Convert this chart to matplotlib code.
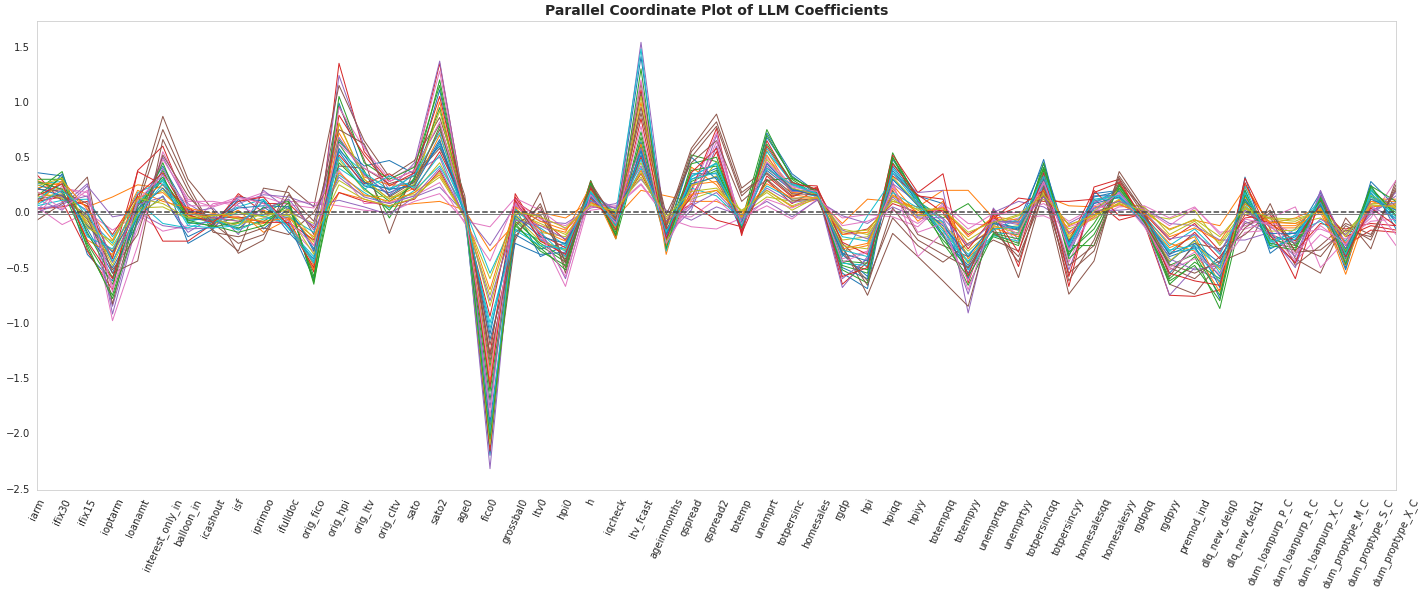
import numpy as np
import pandas as pd
import matplotlib
matplotlib.use("Agg")
import matplotlib.pyplot as plt
import seaborn as sns

# 係数の名前（横軸）
columns = ["iarm", "ifix30", "ifix15", "ioptarm", "loanamt", "interest_only_in",
           "balloon_in", "icashout", "isf", "iprimoo", "ifulldoc", "orig_fico",
           "orig_hpi", "orig_ltv", "orig_cltv", "sato", "sato2", "age0", "fico0",
           "grossbal0", "ltv0", "hpi0", "h", "iqcheck", "ltv_fcast", "ageinmonths",
           "qspread", "qspread2", "totemp", "unemprt", "totpersinc", "homesales",
           "rgdp", "hpi", "hpiqq", "hpiyy", "totempqq", "totempyy", "unemprtqq",
           "unemprtyy", "totpersincqq", "totpersincyy", "homesalesqq", "homesalesyy",
           "rgdpqq", "rgdpyy", "premod_ind", "dlq_new_delq0", "dlq_new_delq1",
           "dum_loanpurp_P_C", "dum_loanpurp_R_C", "dum_loanpurp_X_C",
           "dum_proptype_M_C", "dum_proptype_S_C", "dum_proptype_X_C"]

# 各係数の値（1列 = 40モデル分）
iarm = [0.36, 0.29, 0.20, 0.34, 0.10, -0.07, 0.05, -0.01, 0.16, 0.26,
        0.08, 0.22, 0.30, 0.03, 0.12, 0.18, 0.02, -0.01, 0.14, 0.06,
        0.25, 0.27, 0.15, 0.10, 0.04, 0.21, -0.02, -0.01, 0.18, 0.12,
        0.22, 0.08, 0.28, 0.15, 0.00, 0.12, 0.19, -0.01, 0.24, 0.07]
ifix30 = [0.33, 0.20, 0.37, 0.10, 0.15, 0.08, -0.11, -0.01, 0.22, 0.28,
          0.35, 0.27, 0.30, 0.05, 0.02, 0.12, 0.24, -0.01, 0.17, 0.11,
          0.18, 0.25, 0.32, 0.14, 0.06, 0.19, 0.22, -0.01, 0.13, 0.26,
          0.15, 0.29, 0.21, 0.26, 0.09, 0.16, 0.03, -0.01, 0.31, 0.20]
ifix15 = [-0.38, 0.05, -0.33, -0.35, 0.02, 0.32, 0.00, -0.01, -0.10, -0.05,
          -0.20, -0.12, -0.28, 0.10, 0.24, -0.02, 0.14, -0.01, -0.08, 0.12,
          -0.15, -0.25, -0.18, 0.06, 0.26, 0.08, 0.18, -0.01, -0.04, -0.22,
          -0.12, 0.03, -0.30, -0.26, 0.15, -0.06, 0.20, -0.01, -0.14, 0.00]
ioptarm = [-0.62, 0.14, -0.75, -0.70, -0.85, -0.83, -0.16, -0.01, -0.40, -0.28,
           -0.50, -0.35, -0.65, -0.20, -0.04, -0.45, -0.98, -0.01, -0.30, -0.22,
           -0.55, -0.38, -0.59, -0.42, -0.92, -0.55, -0.68, -0.01, -0.48, -0.33,
           -0.36, -0.25, -0.78, -0.60, -0.45, -0.52, -0.72, -0.01, -0.26, -0.44]
loanamt = [0.05, 0.25, 0.00, 0.38, -0.05, 0.10, -0.02, -0.01, 0.08, 0.18,
           -0.10, 0.12, 0.02, 0.15, 0.00, 0.06, -0.30, -0.01, 0.04, 0.10,
           -0.04, 0.14, 0.06, 0.37, -0.08, -0.44, -0.15, -0.01, 0.00, 0.09,
           0.03, 0.20, -0.06, 0.16, 0.07, -0.20, 0.11, -0.01, 0.13, -0.03]
interest_only_in = [0.42, 0.22, 0.30, 0.60, 0.50, 0.87, -0.17, -0.01, 0.20, 0.28,
                    0.35, 0.25, 0.38, -0.26, -0.12, 0.75, 0.55, -0.01, 0.05, -0.10,
                    0.15, 0.18, 0.32, 0.25, 0.40, 0.66, 0.48, -0.01, 0.12, 0.30,
                    0.22, 0.10, 0.45, 0.36, 0.14, 0.52, 0.34, -0.01, 0.08, 0.26]
balloon_in = [0.02, 0.00, -0.02, 0.05, 0.08, 0.30, -0.12, -0.01, -0.04, -0.08,
              -0.28, 0.01, -0.05, -0.26, -0.15, 0.25, 0.10, -0.01, -0.06, -0.14,
              -0.22, -0.03, -0.07, 0.03, 0.00, 0.20, 0.12, -0.01, -0.01, -0.10,
              -0.06, 0.04, -0.09, -0.02, -0.18, 0.15, 0.06, -0.01, -0.05, -0.12]
icashout = [-0.08, -0.05, -0.10, -0.12, -0.06, 0.02, 0.08, -0.01, -0.09, -0.04,
            -0.15, -0.03, -0.07, -0.10, -0.14, -0.16, 0.10, -0.01, -0.02, -0.06,
            -0.11, -0.08, -0.13, -0.05, 0.04, -0.18, 0.05, -0.01, -0.06, -0.09,
            -0.07, -0.01, -0.12, -0.09, -0.04, -0.10, 0.06, -0.01, -0.03, -0.14]
isf = [-0.15, -0.08, -0.05, 0.17, -0.12, -0.37, 0.10, -0.01, -0.10, 0.05,
       0.12, -0.02, -0.14, 0.15, 0.08, -0.35, 0.06, -0.01, -0.06, -0.16,
       0.14, 0.02, -0.09, -0.04, -0.20, -0.22, 0.12, -0.01, -0.12, 0.00,
       0.04, -0.05, -0.18, 0.10, -0.08, -0.28, 0.14, -0.01, 0.00, -0.12]
iprimoo = [0.05, -0.10, -0.02, 0.00, 0.10, -0.25, 0.18, -0.01, -0.05, 0.12,
           -0.15, 0.02, -0.08, 0.08, 0.16, 0.22, -0.04, -0.01, -0.12, -0.06,
           0.10, -0.18, 0.04, -0.09, 0.20, -0.14, 0.14, -0.01, 0.00, -0.03,
           0.06, -0.08, -0.12, 0.14, 0.03, -0.20, 0.08, -0.01, -0.04, 0.11]
ifulldoc = [-0.10, 0.02, 0.12, -0.05, -0.08, 0.24, 0.10, -0.01, -0.02, -0.15,
            0.04, -0.07, 0.06, 0.08, 0.14, 0.18, -0.12, -0.01, 0.00, -0.04,
            -0.18, -0.06, 0.10, -0.09, 0.02, -0.20, 0.07, -0.01, -0.03, -0.11,
            0.05, -0.05, 0.09, -0.12, 0.12, 0.16, -0.08, -0.01, 0.03, -0.14]
orig_fico = [-0.60, -0.30, -0.65, -0.54, -0.46, 0.05, 0.09, -0.01, -0.27, -0.40,
             -0.33, -0.48, -0.58, -0.14, 0.06, -0.20, -0.36, -0.01, -0.10, -0.18,
             -0.42, -0.52, -0.62, -0.25, -0.12, 0.00, 0.04, -0.01, -0.38, -0.44,
             -0.35, -0.22, -0.63, -0.50, -0.16, -0.08, -0.30, -0.01, -0.24, -0.46]
orig_hpi = [0.99, 0.18, 0.62, 1.35, 1.24, 1.15, 0.06, -0.01, 0.48, 0.40,
            0.64, 0.80, 0.66, 0.18, 0.11, 0.96, 0.95, -0.01, 0.29, 0.34,
            0.55, 0.72, 0.45, 0.52, 0.68, 0.42, 0.38, -0.01, 0.81, 0.56,
            0.58, 0.36, 1.05, 0.88, 0.32, 0.75, 0.62, -0.01, 0.25, 0.50]
orig_ltv = [0.35, 0.12, 0.28, 0.55, 0.60, 0.65, 0.02, -0.01, 0.20, 0.25,
            0.42, 0.30, 0.38, 0.10, 0.05, 0.48, 0.58, -0.01, 0.15, 0.18,
            0.24, 0.32, 0.22, 0.26, 0.34, 0.40, 0.08, -0.01, 0.30, 0.36,
            0.27, 0.16, 0.45, 0.52, 0.14, 0.62, 0.40, -0.01, 0.12, 0.21]
orig_cltv = [0.15, 0.05, 0.10, 0.28, 0.20, 0.32, 0.00, -0.01, 0.08, 0.22,
             0.47, 0.12, -0.05, 0.06, -0.02, -0.19, 0.30, -0.01, 0.14, 0.04,
             0.18, 0.25, 0.02, 0.35, 0.16, 0.26, 0.09, -0.01, 0.12, 0.20,
             0.21, 0.10, 0.30, 0.24, 0.08, 0.14, 0.28, -0.01, 0.06, 0.33]
sato = [0.30, 0.08, 0.25, 0.38, 0.45, 0.47, 0.10, -0.01, 0.18, 0.28,
        0.35, 0.22, 0.32, 0.12, 0.14, 0.40, 0.42, -0.01, 0.16, 0.20,
        0.27, 0.24, 0.30, 0.20, 0.36, 0.33, 0.15, -0.01, 0.26, 0.34,
        0.24, 0.18, 0.41, 0.36, 0.15, 0.28, 0.38, -0.01, 0.13, 0.22]
sato2 = [1.11, 0.10, 0.78, 1.35, 1.37, 0.86, 0.17, -0.01, 0.45, 0.62,
         0.60, 1.00, 1.20, 0.38, 0.23, 0.80, 1.28, -0.01, 0.32, 0.42,
         0.66, 0.70, 0.95, 0.55, 0.50, 0.58, 0.27, -0.01, 0.92, 0.72,
         0.64, 0.34, 1.15, 1.05, 0.40, 0.75, 0.82, -0.01, 0.36, 0.52]
age0 = [0.00, 0.02, -0.02, 0.05, 0.03, 0.15, -0.08, -0.01, 0.01, -0.03,
        0.04, 0.00, 0.06, -0.05, -0.01, 0.10, 0.02, -0.01, -0.04, 0.03,
        -0.02, 0.05, 0.01, 0.08, -0.06, 0.12, -0.10, -0.01, 0.02, -0.01,
        0.03, -0.02, 0.04, 0.07, -0.03, 0.09, 0.01, -0.01, -0.05, 0.02]
fico0 = [-2.20, -0.35, -1.40, -2.16, -2.32, -1.95, -0.13, -0.01, -0.85, -1.00,
         -1.90, -1.53, -1.62, -0.94, -0.30, -1.35, -1.85, -0.01, -0.60, -0.55,
         -1.15, -1.45, -1.70, -1.28, -1.77, -1.20, -0.44, -0.01, -2.10, -2.00,
         -1.10, -0.70, -2.05, -1.58, -0.80, -1.30, -1.48, -0.01, -0.75, -1.05]
grossbal0 = [0.05, -0.10, -0.05, 0.17, 0.08, -0.25, 0.13, -0.01, -0.02, -0.15,
             -0.20, 0.02, -0.08, 0.10, 0.06, -0.12, 0.12, -0.01, 0.00, -0.06,
             -0.28, 0.04, -0.10, 0.14, 0.09, -0.18, 0.10, -0.01, -0.04, 0.03,
             -0.03, 0.05, -0.12, 0.11, -0.07, -0.22, 0.08, -0.01, 0.01, -0.16]
ltv0 = [-0.40, 0.00, -0.30, -0.22, -0.15, 0.18, 0.02, -0.01, -0.18, -0.25,
        -0.33, -0.12, -0.28, -0.05, -0.08, 0.05, -0.20, -0.01, -0.10, -0.14,
        -0.38, -0.16, -0.35, -0.20, -0.24, -0.02, -0.06, -0.01, -0.26, -0.18,
        -0.22, -0.08, -0.32, -0.26, -0.12, 0.08, -0.19, -0.01, -0.04, -0.30]
hpi0 = [-0.30, -0.05, -0.45, -0.40, -0.60, -0.55, -0.15, -0.01, -0.22, -0.35,
        -0.28, -0.18, -0.42, -0.25, -0.10, -0.50, -0.67, -0.01, -0.20, -0.30,
        -0.36, -0.26, -0.48, -0.32, -0.38, -0.44, -0.12, -0.01, -0.34, -0.40,
        -0.28, -0.16, -0.52, -0.38, -0.24, -0.46, -0.58, -0.01, -0.14, -0.33]
h = [0.15, 0.10, 0.29, 0.28, 0.20, 0.27, 0.02, -0.01, 0.12, 0.18,
     0.22, 0.24, 0.26, 0.06, 0.04, 0.21, 0.14, -0.01, 0.08, 0.11,
     0.17, 0.19, 0.25, 0.13, 0.16, 0.23, 0.05, -0.01, 0.20, 0.18,
     0.14, 0.09, 0.27, 0.22, 0.10, 0.24, 0.16, -0.01, 0.07, 0.19]
iqcheck = [-0.10, -0.05, -0.24, -0.22, -0.12, -0.08, 0.05, -0.01, -0.03, -0.15,
           -0.06, -0.24, -0.18, 0.00, 0.08, -0.02, -0.09, -0.01, 0.02, -0.04,
           -0.13, -0.07, -0.20, -0.11, 0.03, -0.05, 0.06, -0.01, -0.14, -0.01,
           -0.08, -0.02, -0.21, -0.16, 0.04, -0.06, -0.10, -0.01, 0.01, -0.12]
ltv_fcast = [1.41, 0.20, 0.60, 1.11, 1.54, 1.17, 0.25, -0.01, 0.45, 0.55,
             0.64, 1.00, 0.73, 0.35, 0.30, 1.08, 1.20, -0.01, 0.32, 0.40,
             0.52, 0.62, 0.68, 0.50, 0.58, 0.95, 0.26, -0.01, 1.05, 1.48,
             0.56, 0.38, 1.30, 0.85, 0.42, 0.90, 0.78, -0.01, 0.36, 0.48]
ageinmonths = [-0.25, 0.15, -0.20, -0.30, -0.18, -0.10, -0.05, -0.01, -0.12, -0.28,
               -0.22, -0.38, -0.26, -0.08, 0.02, -0.14, -0.32, -0.01, -0.06, -0.16,
               -0.24, -0.30, -0.19, -0.15, -0.21, -0.02, -0.04, -0.01, -0.27, -0.35,
               -0.20, -0.10, -0.33, -0.24, -0.08, -0.12, -0.28, -0.01, -0.04, -0.18]
qspread = [0.30, 0.10, 0.52, 0.20, 0.05, 0.58, -0.13, -0.01, 0.15, 0.32,
           0.50, 0.41, 0.28, 0.08, -0.07, 0.55, 0.18, -0.01, 0.12, 0.22,
           0.35, 0.25, 0.38, 0.14, 0.02, 0.45, -0.04, -0.01, 0.24, 0.33,
           0.26, 0.16, 0.44, 0.36, 0.06, 0.50, 0.10, -0.01, 0.19, 0.30]
qspread2 = [0.40, 0.10, 0.46, 0.76, 0.70, 0.89, -0.15, -0.01, 0.46, 0.45,
            0.30, 0.25, 0.38, -0.07, 0.05, 0.82, 0.72, -0.01, 0.20, 0.15,
            0.35, 0.28, 0.42, 0.55, 0.60, 0.65, 0.12, -0.01, 0.33, 0.44,
            0.32, 0.20, 0.50, 0.58, 0.18, 0.78, 0.64, -0.01, 0.22, 0.36]
totemp = [-0.18, 0.00, -0.08, -0.21, -0.12, 0.22, -0.05, -0.01, -0.02, -0.10,
          -0.15, -0.06, -0.09, -0.13, -0.03, 0.18, -0.14, -0.01, 0.02, -0.07,
          -0.11, -0.04, -0.12, -0.19, -0.16, 0.10, -0.08, -0.01, -0.05, -0.10,
          -0.09, -0.03, -0.14, -0.17, -0.06, 0.15, -0.11, -0.01, 0.01, -0.12]
unemprt = [0.72, 0.20, 0.75, 0.65, 0.45, 0.40, 0.06, -0.01, 0.14, 0.58,
           0.68, 0.56, 0.62, 0.29, 0.10, 0.35, 0.50, -0.01, 0.18, 0.24,
           0.38, 0.52, 0.29, 0.33, 0.42, 0.30, 0.12, -0.01, 0.48, 0.55,
           0.44, 0.26, 0.70, 0.60, 0.22, 0.36, 0.46, -0.01, 0.20, 0.40]
totpersinc = [0.35, 0.05, 0.30, 0.25, 0.20, 0.22, -0.06, -0.01, 0.10, 0.26,
              0.33, 0.18, 0.28, 0.08, -0.04, 0.15, 0.24, -0.01, 0.02, 0.12,
              0.20, 0.16, 0.31, 0.14, 0.19, 0.11, 0.04, -0.01, 0.22, 0.27,
              0.21, 0.13, 0.32, 0.27, 0.09, 0.17, 0.23, -0.01, 0.06, 0.25]
homesales = [0.18, 0.12, 0.15, 0.24, 0.20, 0.14, 0.12, -0.01, 0.13, 0.17,
             0.16, 0.19, 0.15, 0.21, 0.11, 0.22, 0.17, -0.01, 0.14, 0.16,
             0.18, 0.13, 0.20, 0.23, 0.19, 0.12, 0.15, -0.01, 0.16, 0.17,
             0.15, 0.13, 0.18, 0.21, 0.12, 0.16, 0.19, -0.01, 0.14, 0.17]
rgdp = [-0.55, -0.10, -0.45, -0.65, -0.68, -0.30, -0.05, -0.01, -0.25, -0.40,
        -0.50, -0.35, -0.48, -0.20, -0.03, -0.28, -0.42, -0.01, -0.15, -0.22,
        -0.38, -0.33, -0.44, -0.27, -0.60, -0.36, -0.12, -0.01, -0.30, -0.46,
        -0.37, -0.20, -0.52, -0.58, -0.16, -0.32, -0.45, -0.01, -0.18, -0.34]
hpi = [-0.69, 0.12, -0.52, -0.45, -0.40, -0.75, -0.02, -0.01, -0.22, -0.03,
       -0.60, -0.30, -0.55, -0.15, -0.10, -0.50, -0.35, -0.01, -0.20, -0.26,
       -0.58, -0.28, -0.46, -0.38, -0.42, -0.62, -0.08, -0.01, -0.33, -0.48,
       -0.44, -0.18, -0.64, -0.50, -0.24, -0.66, -0.36, -0.01, -0.16, -0.40]
hpiqq = [0.48, 0.10, 0.54, 0.52, 0.35, -0.19, -0.04, -0.01, 0.15, 0.30,
         0.42, 0.25, 0.50, 0.08, 0.05, 0.20, 0.28, -0.01, 0.12, 0.18,
         0.38, 0.22, 0.45, 0.33, 0.26, -0.05, 0.02, -0.01, 0.32, 0.40,
         0.30, 0.16, 0.50, 0.44, 0.14, 0.04, 0.24, -0.01, 0.10, 0.36]
hpiyy = [0.15, 0.05, 0.10, 0.18, 0.18, -0.40, -0.13, -0.01, 0.02, 0.08,
         0.12, -0.02, 0.06, 0.00, -0.05, -0.20, -0.40, -0.01, -0.03, 0.04,
         0.10, -0.08, 0.14, 0.16, 0.09, -0.30, -0.10, -0.01, 0.07, 0.11,
         0.06, 0.00, 0.13, 0.15, -0.04, -0.25, -0.18, -0.01, 0.03, 0.08]
totempqq = [0.08, 0.20, -0.05, 0.35, 0.20, -0.62, 0.08, -0.01, -0.10, -0.20,
            -0.15, 0.05, -0.25, 0.02, -0.08, -0.30, -0.18, -0.01, -0.02, -0.12,
            -0.22, 0.10, -0.28, 0.00, -0.06, -0.45, 0.06, -0.01, -0.14, -0.09,
            -0.12, 0.04, -0.20, 0.12, -0.05, -0.38, -0.10, -0.01, 0.03, -0.17]
totempyy = [-0.60, 0.20, 0.08, -0.64, -0.91, -0.85, -0.10, -0.01, -0.35, -0.45,
            -0.55, -0.30, -0.50, -0.20, -0.74, -0.40, -0.62, -0.01, -0.25, -0.38,
            -0.48, -0.42, -0.58, -0.33, -0.52, -0.28, -0.15, -0.01, -0.46, -0.52,
            -0.40, -0.22, -0.66, -0.57, -0.30, -0.50, -0.70, -0.01, -0.18, -0.44]
unemprtqq = [-0.10, -0.05, -0.18, 0.03, 0.04, -0.02, -0.12, -0.01, -0.15, -0.20,
             -0.08, -0.14, -0.22, -0.06, 0.00, -0.25, -0.03, -0.01, -0.11, -0.16,
             -0.09, -0.13, -0.19, -0.04, -0.07, -0.17, -0.01, -0.01, -0.12, -0.21,
             -0.10, -0.04, -0.20, -0.02, -0.08, -0.14, -0.06, -0.01, -0.09, -0.15]
unemprtyy = [-0.15, -0.10, -0.20, -0.49, -0.25, -0.59, -0.05, -0.01, -0.12, -0.18,
             -0.08, -0.22, -0.30, 0.13, 0.10, -0.35, -0.28, -0.01, -0.03, -0.06,
             -0.14, -0.16, -0.24, 0.05, -0.11, -0.40, 0.00, -0.01, -0.19, -0.26,
             -0.16, -0.07, -0.28, -0.36, -0.09, -0.45, -0.20, -0.01, -0.02, -0.13]
totpersincqq = [0.48, 0.15, 0.41, 0.30, 0.25, 0.20, -0.03, -0.01, 0.18, 0.35,
                0.44, 0.28, 0.38, 0.10, 0.05, 0.22, 0.26, -0.01, 0.12, 0.24,
                0.32, 0.30, 0.40, 0.20, 0.27, 0.16, 0.08, -0.01, 0.34, 0.36,
                0.30, 0.20, 0.45, 0.36, 0.14, 0.24, 0.28, -0.01, 0.16, 0.33]
totpersincyy = [-0.40, 0.06, -0.30, -0.67, -0.52, -0.74, -0.13, -0.01, -0.22, -0.35,
                -0.28, -0.18, -0.38, 0.10, -0.10, -0.62, -0.45, -0.01, -0.15, -0.25,
                -0.32, -0.20, -0.36, -0.26, -0.33, -0.55, -0.08, -0.01, -0.24, -0.30,
                -0.27, -0.12, -0.42, -0.58, -0.19, -0.48, -0.34, -0.01, -0.11, -0.29]
homesalesqq = [0.17, 0.05, -0.30, 0.23, 0.10, -0.44, -0.05, -0.01, -0.02, 0.08,
               0.15, 0.00, -0.10, 0.12, 0.02, -0.25, 0.06, -0.01, -0.06, 0.03,
               0.14, -0.04, -0.15, 0.20, 0.09, -0.35, 0.04, -0.01, 0.01, 0.11,
               0.08, -0.02, -0.20, 0.18, 0.04, -0.30, 0.00, -0.01, -0.03, 0.12]
homesalesyy = [0.20, 0.10, 0.25, 0.30, 0.18, 0.37, 0.05, -0.01, 0.12, 0.22,
               0.15, 0.08, 0.26, -0.07, 0.02, 0.33, 0.14, -0.01, 0.09, 0.16,
               0.19, 0.11, 0.24, -0.03, 0.17, 0.28, 0.06, -0.01, 0.21, 0.13,
               0.14, 0.07, 0.22, 0.27, 0.10, 0.31, 0.18, -0.01, 0.08, 0.15]
rgdpqq = [-0.05, 0.00, -0.08, -0.10, -0.06, 0.03, 0.06, -0.01, -0.02, -0.07,
          -0.12, -0.04, -0.09, -0.01, 0.04, 0.00, -0.13, -0.01, 0.05, -0.03,
          -0.11, -0.06, -0.08, -0.02, -0.04, 0.02, 0.03, -0.01, -0.07, -0.10,
          -0.05, -0.01, -0.09, -0.07, 0.01, -0.03, -0.11, -0.01, 0.02, -0.06]
rgdpyy = [-0.55, -0.15, -0.60, -0.75, -0.75, -0.65, -0.05, -0.01, -0.06, -0.35,
          -0.45, -0.28, -0.65, -0.25, -0.10, -0.50, -0.52, -0.01, -0.20, -0.30,
          -0.40, -0.32, -0.48, -0.38, -0.42, -0.58, -0.12, -0.01, -0.44, -0.36,
          -0.38, -0.22, -0.62, -0.55, -0.24, -0.47, -0.50, -0.01, -0.16, -0.34]
premod_ind = [-0.30, -0.07, -0.40, -0.76, -0.50, -0.74, 0.05, -0.01, 0.02, -0.20,
              -0.25, -0.35, -0.45, -0.10, -0.12, -0.60, -0.42, -0.01, -0.08, -0.15,
              -0.32, -0.22, -0.38, -0.18, -0.52, -0.28, 0.04, -0.01, -0.26, -0.33,
              -0.28, -0.14, -0.48, -0.62, -0.20, -0.55, -0.36, -0.01, -0.06, -0.30]
dlq_new_delq0 = [-0.78, -0.12, -0.87, -0.70, -0.62, -0.45, -0.20, -0.01, -0.30, -0.55,
                 -0.68, -0.72, -0.60, -0.35, -0.25, -0.40, -0.50, -0.01, -0.28, -0.38,
                 -0.58, -0.65, -0.75, -0.42, -0.48, -0.33, -0.18, -0.01, -0.52, -0.63,
                 -0.46, -0.26, -0.80, -0.66, -0.36, -0.44, -0.56, -0.01, -0.22, -0.50]
dlq_new_delq1 = [0.32, 0.22, 0.10, 0.31, 0.05, -0.35, -0.12, -0.01, 0.00, 0.15,
                 0.18, 0.25, 0.12, -0.05, -0.25, -0.10, -0.18, -0.01, 0.03, 0.08,
                 0.20, 0.14, 0.16, -0.02, -0.08, -0.20, -0.15, -0.01, 0.06, 0.24,
                 0.12, 0.08, 0.20, 0.27, 0.02, -0.14, -0.06, -0.01, 0.04, 0.18]
dum_loanpurp_P_C = [-0.37, -0.10, -0.20, -0.15, -0.25, 0.08, -0.05, -0.01, -0.08, -0.30,
                    -0.22, -0.12, -0.28, -0.02, -0.18, -0.04, -0.16, -0.01, -0.06, -0.26,
                    -0.33, -0.14, -0.24, -0.10, -0.20, 0.00, -0.08, -0.01, -0.17, -0.32,
                    -0.19, -0.09, -0.30, -0.21, -0.13, 0.02, -0.11, -0.01, -0.05, -0.27]
dum_loanpurp_R_C = [-0.20, -0.05, -0.28, -0.60, -0.45, -0.42, 0.05, -0.01, -0.10, -0.15,
                    -0.25, -0.12, -0.32, -0.35, -0.40, -0.48, -0.44, -0.01, -0.08, -0.18,
                    -0.22, -0.14, -0.30, -0.26, -0.50, -0.30, -0.20, -0.01, -0.16, -0.24,
                    -0.19, -0.10, -0.34, -0.46, -0.28, -0.36, -0.38, -0.01, -0.06, -0.21]
dum_loanpurp_X_C = [0.18, 0.05, 0.10, 0.15, 0.20, -0.55, -0.50, -0.01, -0.05, 0.12,
                    0.08, 0.00, 0.14, -0.10, 0.16, -0.30, -0.20, -0.01, 0.02, -0.08,
                    0.06, 0.03, 0.11, 0.09, 0.19, -0.40, -0.15, -0.01, 0.04, 0.13,
                    0.07, 0.02, 0.13, 0.10, -0.06, -0.34, -0.12, -0.01, 0.01, 0.09]
dum_proptype_M_C = [-0.50, -0.56, -0.40, -0.30, -0.35, -0.05, -0.25, -0.01, -0.20, -0.45,
                    -0.52, -0.48, -0.38, -0.15, -0.28, -0.10, -0.32, -0.01, -0.18, -0.26,
                    -0.42, -0.44, -0.36, -0.22, -0.30, -0.12, -0.24, -0.01, -0.34, -0.46,
                    -0.33, -0.28, -0.47, -0.40, -0.20, -0.16, -0.29, -0.01, -0.22, -0.38]
dum_proptype_S_C = [0.28, 0.10, 0.15, -0.16, 0.05, -0.33, -0.05, -0.01, 0.08, 0.22,
                    0.25, 0.12, 0.20, -0.10, -0.02, -0.20, 0.02, -0.01, 0.06, 0.14,
                    0.18, 0.10, 0.24, -0.12, 0.00, -0.25, -0.08, -0.01, 0.16, 0.20,
                    0.12, 0.05, 0.23, 0.04, 0.02, -0.22, 0.08, -0.01, 0.07, 0.17]
dum_proptype_X_C = [0.05, 0.10, 0.00, -0.18, -0.05, 0.29, 0.29, -0.01, 0.08, -0.10,
                    -0.15, 0.12, 0.02, -0.12, 0.15, 0.20, -0.30, -0.01, 0.06, -0.02,
                    -0.08, 0.04, 0.10, -0.16, 0.18, 0.25, -0.06, -0.01, 0.03, -0.04,
                    0.02, 0.07, -0.03, -0.12, 0.09, 0.22, -0.20, -0.01, 0.05, -0.06]

col_values = [iarm, ifix30, ifix15, ioptarm, loanamt, interest_only_in,
              balloon_in, icashout, isf, iprimoo, ifulldoc, orig_fico,
              orig_hpi, orig_ltv, orig_cltv, sato, sato2, age0, fico0,
              grossbal0, ltv0, hpi0, h, iqcheck, ltv_fcast, ageinmonths,
              qspread, qspread2, totemp, unemprt, totpersinc, homesales,
              rgdp, hpi, hpiqq, hpiyy, totempqq, totempyy, unemprtqq,
              unemprtyy, totpersincqq, totpersincyy, homesalesqq, homesalesyy,
              rgdpqq, rgdpyy, premod_ind, dlq_new_delq0, dlq_new_delq1,
              dum_loanpurp_P_C, dum_loanpurp_R_C, dum_loanpurp_X_C,
              dum_proptype_M_C, dum_proptype_S_C, dum_proptype_X_C]

df = pd.DataFrame(dict(zip(columns, col_values)))

sns.set_style("whitegrid")

W, H = 1428, 601
fig = plt.figure(figsize=(W / 72, H / 72), dpi=72)
ax = fig.add_axes((37 / W, (H - 490) / H, 1359 / W, 469 / H))

x = np.arange(len(columns))
for _, row in df.iterrows():
    ax.plot(x, row.values, linewidth=1.0)
# ゼロの基準線
ax.axhline(0, color="#444444", linestyle="--", linewidth=1.5)

ax.grid(False)
ax.set_xlim(0, len(columns) - 1)
ax.set_yticks(np.arange(-2.5, 1.51, 0.5))
ax.set_xticks(x)
ax.set_xticklabels(columns, rotation=65, ha="center", fontsize=10)
ax.tick_params(axis="y", labelsize=10)
ax.set_title("Parallel Coordinate Plot of LLM Coefficients",
             fontsize=14, fontweight="bold")

plt.savefig("out.png", dpi=72)
plt.close()
